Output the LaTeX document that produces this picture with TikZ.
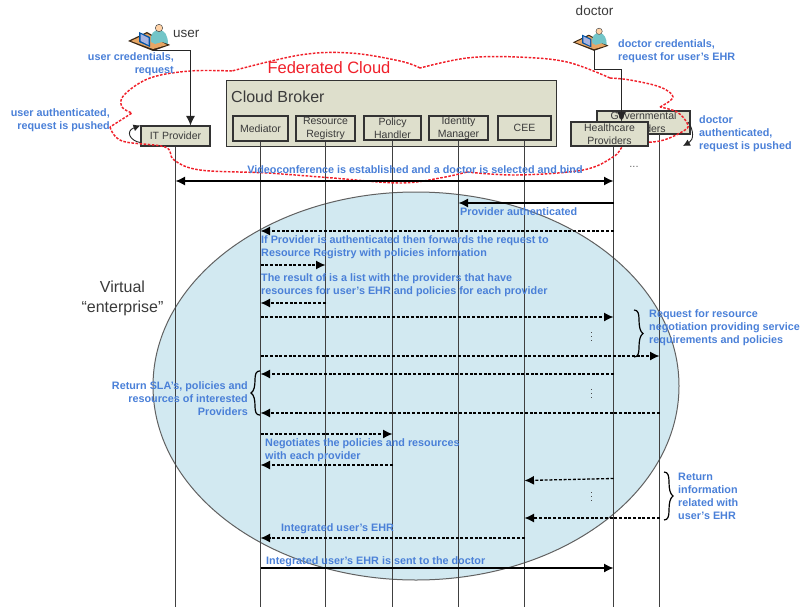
\documentclass[tikz,border=0pt]{standalone}
\usepackage{fontspec}
\setmainfont{Liberation Sans}
\usetikzlibrary{arrows.meta}
\definecolor{boxfill}{HTML}{DEDFCC}
\definecolor{ellfill}{HTML}{D2E9F1}
\definecolor{bluetxt}{HTML}{4A80D8}
\definecolor{redline}{HTML}{F0202A}
\definecolor{darktxt}{HTML}{3A3A3A}
\tikzset{
  box/.style={draw=black!80,line width=1.1pt,fill=boxfill,inner sep=0pt,align=center,text=darktxt,font=\fontsize{10.5}{13}\selectfont},
  lbl/.style={inner sep=0pt,text=bluetxt,font=\bfseries\fontsize{10.8}{13}\selectfont},
  lblL/.style={lbl,anchor=west,align=left},
  lblR/.style={lbl,anchor=east,align=right},
  plain/.style={inner sep=0pt,text=darktxt},
  life/.style={draw=black!75,line width=1.05pt},
  msg/.style={line width=1.3pt,-{Latex[length=9.5pt,width=9pt]}},
  dmsg/.style={msg,dash pattern=on 3pt off 1.7pt},
  dotsv/.style={draw=black!70,line width=1pt,dash pattern=on 1pt off 3.2pt},
  cloudline/.style={draw=redline,line width=1.45pt,dash pattern=on 2.6pt off 1.5pt},
  wire/.style={draw=black!85,line width=1.05pt},
  curly/.pic={
    \draw[black,line width=1.2pt] (0,-23.5) .. controls (4,-23.5) and (5,-20) .. (5,-14) .. controls (5,-7) and (6,-2) .. (9,0) .. controls (6,2) and (5,7) .. (5,14) .. controls (5,20) and (4,23.5) .. (0,23.5);
  },
  person/.pic={
    \fill[fill=black!70!brown] (-25,-9) -- (-6,-18) -- (17,-5) -- (0,1) -- cycle;
    \fill[fill=brown!55!orange!70] (-22,-9) -- (-6,-16.5) -- (14,-5) -- (0,-1) -- cycle;
    \fill[fill=blue!50!cyan!65!black] (-14,-18) -- (-3,-13) -- (-3,-3) -- (-14,-8) -- cycle;
    \fill[fill=cyan!35!blue!35] (-12.5,-16) -- (-4.5,-12) -- (-4.5,-5) -- (-12.5,-9) -- cycle;
    \fill[fill=ellfill!50!cyan!60!gray] (-2,-8) .. controls (-3,-17) and (1,-20) .. (6,-20) .. controls (12,-20) and (15,-14) .. (15,-6) -- (9,-8) -- (2,-6) -- cycle;
    \fill[fill=orange!35!white,draw=black!70,line width=.5pt] (6,-22) circle [radius=3.7pt];
  }
}
\begin{document}
\begin{tikzpicture}[x=1pt,y=-1pt]
\useasboundingbox (0,0) rectangle (800,607);

% virtual enterprise
\filldraw[fill=ellfill,draw=black!62,line width=1pt] (416,386) ellipse [x radius=263pt,y radius=194pt];

% boxes
\node[box,anchor=north west,minimum width=330pt,minimum height=66pt] (broker) at (226,80) {};
\node[plain,anchor=west,font=\fontsize{16}{18}\selectfont] (brokerlbl) at (231,97) {Cloud Broker};
\node[box,minimum width=55pt,minimum height=25pt] (mediator) at (260.5,128.5) {Mediator};
\node[box,minimum width=59pt,minimum height=25pt] (registry) at (325.5,128.5) {Resource\\Registry};
\node[box,minimum width=57pt,minimum height=24pt] (policy) at (392.5,128) {Policy\\Handler};
\node[box,minimum width=59pt,minimum height=24pt] (identity) at (458.5,128) {Identity\\Manager};
\node[box,minimum width=53pt,minimum height=24pt] (cee) at (524.5,128) {CEE};
\node[box,minimum width=69pt,minimum height=20pt] (it) at (175.5,136) {IT Provider};
\node[box,minimum width=93pt,minimum height=23pt] (gov) at (643.5,122.5) {Governmental\\Providers};
\coordinate (govline) at (659.5,134);

% lifelines
\draw[life] (it.south) -- (it.south |- 0,607);
\draw[life] (mediator.south) -- (mediator.south |- 0,607);
\draw[life] (registry.south) -- (registry.south |- 0,607);
\draw[life] (policy.south) -- (policy.south |- 0,607);
\draw[life] (identity.south) -- (identity.south |- 0,607);
\draw[life] (cee.south) -- (cee.south |- 0,607);
\draw[life] (govline) -- (govline |- 0,607);
\coordinate (hcline) at (613.5,146);
\draw[life] (hcline) -- (hcline |- 0,607);

% federated cloud outline
\draw[cloudline] plot[smooth,tension=.6] coordinates {(232,71) (190,71) (150,78) (124,95) (122,107) (132,113)}
  -- (110,127)
  plot[smooth,tension=.6] coordinates {(110,127) (122,141) (165,147) (174,160) (200,170) (267,173) (333,178) (400,183) (440,178) (467,172)}
  plot[smooth,tension=.6] coordinates {(467,172) (517,175) (583,170) (613,157) (622,147) (626,143) (660,141) (685,130) (687,123) (677,112) (660,107)}
  plot[smooth,tension=.6] coordinates {(660,107) (673,97) (660,87) (630,80) (610,78)}
  plot[smooth,tension=.6] coordinates {(610,78) (567,62) (517,57) (467,58) (420,68)}
  plot[smooth,tension=.6] coordinates {(420,68) (400,61) (350,53) (300,55) (232,71)};

\node[box,minimum width=77pt,minimum height=24pt] (hc) at (609.5,134) {Healthcare\\Providers};

% actors
\pic at (153,50) {person};
\pic[scale=.85] at (594,50) {person};
\coordinate (userout) at (153,50.5);
\coordinate (docout) at (594.5,50);
\coordinate (usercorner) at (190.5,50.5);
\coordinate (doccorner) at (594.5,69.5);
\coordinate (doctip) at (621.5,69.5);
\node[plain,anchor=west,font=\fontsize{13.5}{14}\selectfont] (userlbl) at (173,34) {user};
\node[plain,font=\fontsize{13.5}{14}\selectfont] (doclbl) at (594.5,11) {doctor};
\node[inner sep=0pt,text=redline,font=\fontsize{16.5}{18}\selectfont] (fed) at (329,68) {Federated Cloud};

\draw[msg,wire] (userout) -- (usercorner) -- (usercorner |- it.north);
\draw[msg,wire] (docout) -- (doccorner) -- (doctip) -- (doctip |- hc.north);
\draw[wire,line width=.9pt,-{Latex[length=7pt,width=7pt]}] (it.south west) ++(0,-4) .. controls (130,141) and (125,131) .. (it.north west);
\draw[wire,line width=.9pt,-{Latex[length=7pt,width=7pt]}] (688,122) .. controls (694,130) and (694,140) .. (683,146);

% messages
\draw[msg,{Latex[length=9.5pt,width=9pt]}-{Latex[length=9.5pt,width=9pt]}] (it.south |- 0,181) -- (hcline |- 0,181);
\draw[msg] (hcline |- 0,203) -- (identity.south |- 0,203);
\draw[dmsg] (hcline |- 0,231) -- (mediator.south |- 0,231);
\draw[dmsg] (mediator.south |- 0,265) -- (registry.south |- 0,265);
\draw[dmsg] (registry.south |- 0,303) -- (mediator.south |- 0,303);
\draw[dmsg] (mediator.south |- 0,317) -- (hcline |- 0,317);
\draw[dmsg] (mediator.south |- 0,356) -- (govline |- 0,356);
\draw[dmsg] (hcline |- 0,374) -- (mediator.south |- 0,374);
\draw[dmsg] (govline |- 0,413) -- (mediator.south |- 0,413);
\draw[dmsg] (mediator.south |- 0,434) -- (policy.south |- 0,434);
\draw[dmsg] (policy.south |- 0,465) -- (mediator.south |- 0,465);
\draw[dmsg] (hcline |- 0,478.5) -- (cee.south |- 0,480.5);
\draw[dmsg] (govline |- 0,518) -- (cee.south |- 0,518);
\draw[dmsg] (cee.south |- 0,538) -- (mediator.south |- 0,538);
\draw[msg] (mediator.south |- 0,568) -- (hcline |- 0,568);

% vertical dots
\coordinate (d1) at (591,332); \coordinate (d2) at (591,389); \coordinate (d3) at (591,492);
\draw[dotsv] (d1) -- ++(0,11);
\draw[dotsv] (d2) -- ++(0,11);
\draw[dotsv] (d3) -- ++(0,11);

% braces
\pic at (634,333.5) {curly};
\pic[xscale=-1,yscale=.94] at (260,393) {curly};
\pic[yscale=1.02] at (664,496) {curly};

% labels
\node[lblR] (l1) at (174,64.5) {user credentials,\\request};
\node[lblR] (l2) at (110,120.5) {user authenticated,\\request is pushed};
\node[lblL] (l3) at (618,51) {doctor credentials,\\request for user's EHR};
\node[lblL] (l4) at (699,133.5) {doctor\\authenticated,\\request is pushed};
\node[lbl] (l5) at (415,170) {Videoconference is established and a doctor is selected and bind};
\node[plain,font=\fontsize{11}{12}\selectfont,text=black!60] (more) at (634,167) {...};
\node[lblL] (l6) at (460,212) {Provider authenticated};
\node[lblL] (l7) at (261,247) {If Provider is authenticated then forwards the request to\\Resource Registry with policies information};
\node[lblL] (l8) at (261,285.5) {The result of is a list with the providers that have\\resources for user's EHR and policies for each provider};
\node[lblL] (l9) at (649,328) {Request for resource\\negotiation providing service\\requirements and policies};
\node[lblR] (l10) at (248,398.5) {Return SLA's, policies and\\resources of interested\\Providers};
\node[lblL] (l11) at (265,450.5) {Negotiates the  policies and resources\\with each provider};
\node[lblL] (l12) at (678,496.5) {Return\\information\\related with\\user's EHR};
\node[lblL] (l13) at (281,529) {Integrated user's EHR};
\node[lblL] (l14) at (266,562) {Integrated user's EHR is sent to the doctor};
\node[plain,align=center,font=\fontsize{16}{20}\selectfont] (virt) at (122.5,298) {Virtual\\“enterprise”};
\end{tikzpicture}
\end{document}
